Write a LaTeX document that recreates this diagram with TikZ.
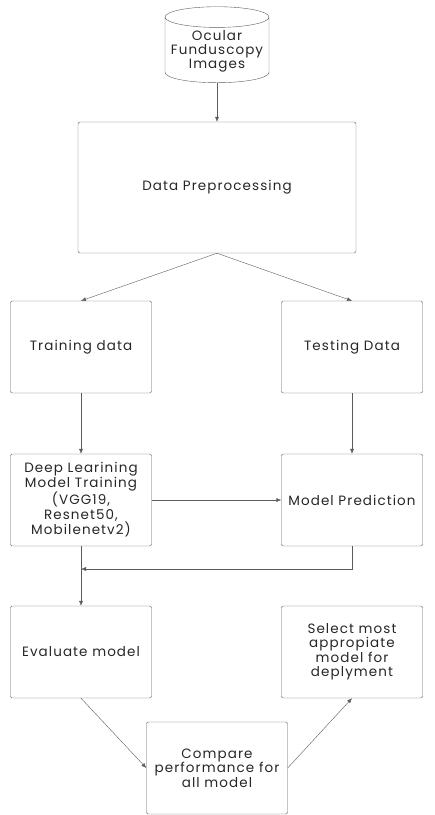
\documentclass[tikz,border=0pt]{standalone}
\usepackage{fontspec}
\setmainfont{Poppins}[LetterSpace=8]
\usetikzlibrary{shapes.geometric,arrows.meta}

\definecolor{linegray}{HTML}{5C5C5C}
\definecolor{textgray}{HTML}{262626}

\tikzset{
  stepbox/.style={draw=linegray,rounded corners=2pt,minimum width=141pt,minimum height=92pt,
    align=center,text=textgray,font=\fontsize{13.5}{14.5}\selectfont,inner sep=2pt},
  flow/.style={draw=linegray,-{Latex[length=5pt,width=4pt]}}
}

\begin{document}
\begin{tikzpicture}[x=1pt,y=-1pt]
            \useasboundingbox (0,0) rectangle (435,815);
            \node (img) at (217,51) [cylinder,shape border rotate=90,aspect=0.22,draw=linegray,
              minimum width=104pt,minimum height=76pt,align=center,text=textgray,
              font=\fontsize{13.5}{14}\selectfont,inner sep=1pt] {Ocular\\Funduscopy\\Images};
            \node (prep) at (217,187.5) [stepbox,minimum width=278pt,minimum height=131pt] {Data Preprocessing};
            \node (train) at (81,347) [stepbox] {Training data};
            \node (test) at (352,347) [stepbox] {Testing Data};
            \node (dl) at (81,500) [stepbox] {Deep Learining\\Model Training\\(VGG19,\\Resnet50,\\Mobilenetv2)};
            \node (pred) at (352,500) [stepbox] {Model Prediction};
            \node (eval) at (81,652) [stepbox] {Evaluate model};
            \node (select) at (352,652) [stepbox] {Select most\\appropiate\\model for\\deplyment};
            \node (compare) at (217,768) [stepbox] {Compare\\performance for\\all model};
            \coordinate (merge) at (81,569);
            \draw[flow] (img) -- (prep);
            \draw[flow] (prep.south) -- (train.north);
            \draw[flow] (prep.south) -- (test.north);
            \draw[flow] (train) -- (dl);
            \draw[flow] (test) -- (pred);
            \draw[flow] (dl) -- (pred);
            \draw[flow] (pred.south) |- (merge);
            \draw[flow] (dl) -- (eval);
            \draw[flow] (eval.south) -- (compare.west);
            \draw[flow] (compare.east) -- (select.south);
        \end{tikzpicture}
\end{document}
